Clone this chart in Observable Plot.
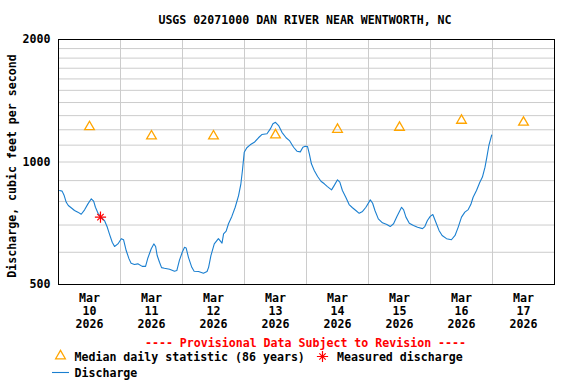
<!DOCTYPE html>
<html><head><meta charset="utf-8">
<script src="https://cdn.jsdelivr.net/npm/d3@7"></script>
<script src="https://cdn.jsdelivr.net/npm/@observablehq/plot@0.6"></script>
<style>
body{margin:0;background:#fff;}
#wrap{width:576px;height:384px;}
</style></head><body><div id="wrap"></div>
<script>
// ---- data ----
const title = "USGS 02071000 DAN RIVER NEAR WENTWORTH, NC";
const yLabel = "Discharge, cubic feet per second";
const provisional = "---- Provisional Data Subject to Revision ----";
const startTime = "2026-03-10T00:00Z";
const endTime = "2026-03-18T00:00Z";
// discharge: hours after 2026-03-10 00:00, cfs
const flowHours = [0.4,1.4,2.2,3.0,3.8,4.9,6.2,7.5,8.8,10.1,
11.4,12.7,13.6,14.3,15.3,16.5,17.8,18.9,19.7,20.8,
21.7,23.0,24.3,25.2,26.2,27.3,28.1,29.4,30.7,32.4,
33.7,34.6,35.9,36.9,37.6,38.2,39.1,39.9,41.0,43.0,
44.9,45.8,46.8,47.9,48.8,49.4,50.3,51.6,52.5,54.2,
56.1,57.5,58.1,59.0,60.3,61.9,63.3,63.9,64.9,65.8,
67.1,68.4,69.7,70.6,71.2,71.9,72.9,74.2,75.8,77.4,
78.7,80.7,82.0,83.0,84.0,85.2,86.5,88.1,89.4,91.0,
92.3,93.6,94.6,95.5,96.4,97.1,97.9,99.0,100.3,101.6,
102.9,104.1,105.7,106.7,108.0,108.9,109.9,111.3,112.5,113.8,
115.1,116.4,117.7,119.0,120.7,121.6,122.5,123.8,125.4,127.1,
128.4,129.7,131.0,132.8,133.6,134.5,135.8,137.4,139.0,140.9,
141.8,142.8,143.9,144.9,146.3,147.3,148.5,150.2,152.1,153.5,
154.7,156.0,157.3,158.6,159.6,160.5,161.8,163.1,164.1,165.1,
165.8,166.6,167.7];
const flowValues = [851,848,827,796,782,772,760,753,744,763,
789,812,801,774,748,732,718,691,666,635,
620,629,648,644,606,578,564,560,562,554,
554,581,612,629,620,589,567,550,548,545,
539,541,573,600,617,615,583,551,539,538,
533,538,551,589,629,648,632,666,676,705,
735,774,827,884,953,1057,1084,1102,1118,1147,
1168,1173,1206,1241,1252,1229,1183,1147,1129,1087,
1063,1059,1087,1093,1091,1047,990,953,921,897,
884,870,854,875,904,892,851,817,786,772,
760,748,756,774,807,792,760,725,709,702,
694,705,735,774,763,732,707,698,691,686,
694,718,735,743,705,679,660,648,644,660,
691,732,753,764,786,819,851,892,918,971,
1027,1098,1165];
const medianDates = ["2026-03-10T12:00Z","2026-03-11T12:00Z","2026-03-12T12:00Z","2026-03-13T12:00Z","2026-03-14T12:00Z","2026-03-15T12:00Z","2026-03-16T12:00Z","2026-03-17T12:00Z"];
const medianValues = [1220,1158,1158,1165,1202,1216,1265,1251];
const measuredDates = ["2026-03-10T16:15Z"];
const measuredValues = [732];
const yTicks = [500,1000,2000];
const yGrid = [600,700,800,900,1000,1100,1200,1300,1400,1500,1600,1700,1800,1900];
const dayLines = ["2026-03-11T00:00Z","2026-03-12T00:00Z","2026-03-13T00:00Z","2026-03-14T00:00Z","2026-03-15T00:00Z","2026-03-16T00:00Z","2026-03-17T00:00Z"];
const tickLabelDates = medianDates;
const legendMedian = "Median daily statistic (86 years)";
const legendMeasured = "Measured discharge";
const legendFlow = "Discharge";

// ---- build ----
const t0 = new Date(startTime);
const flow = flowHours.map((h,i)=>({date:new Date(+t0 + h*3600e3), value:flowValues[i]}));
const medians = medianDates.map((d,i)=>({date:new Date(d), value:medianValues[i]}));
const measured = measuredDates.map((d,i)=>({date:new Date(d), value:measuredValues[i]}));
const fmt = d => d3.utcFormat("%b")(d) + "\n" + d3.utcFormat("%d")(d) + "\n" + d3.utcFormat("%Y")(d);

const FONT = "DejaVu Sans Mono";
const FS = 11.6;
const BLUE = "#1a7fd0";
const ORANGE = "#ffa500";

const chart = Plot.plot({
  width:576, height:384,
  marginTop:39, marginBottom:100, marginLeft:58, marginRight:22,
  style:{fontFamily:FONT, fontSize:FS+"px", fontWeight:"bold", background:"white", color:"black", overflow:"visible"},
  x:{type:"utc", domain:[new Date(startTime), new Date(endTime)], axis:null},
  y:{type:"log", domain:[500,2000], axis:null},
  marks:[
    Plot.ruleY(yGrid, {stroke:"#cccccc", strokeWidth:1}),
    Plot.ruleX(dayLines.map(d=>new Date(d)), {stroke:"#cccccc", strokeWidth:1}),
    Plot.axisY({ticks:yTicks, tickSize:0, tickPadding:8, tickFormat:d3.format("d"), label:null, fontSize:FS, fontWeight:"bold"}),
    Plot.text(tickLabelDates.map(d=>new Date(d)), {x:d=>d, text:fmt, frameAnchor:"bottom", lineAnchor:"top", dy:8, lineHeight:1.13, fontSize:FS, fontWeight:"bold"}),
    Plot.line(flow, {x:"date", y:"value", stroke:BLUE, strokeWidth:1.1}),
    Plot.dot(medians, {x:"date", y:"value", symbol:"triangle", r:3.6, stroke:ORANGE, strokeWidth:1.3, fill:"none"}),
    Plot.dot(measured, {x:"date", y:"value", symbol:"plus", r:3.7, stroke:"red", strokeWidth:1.2}),
    Plot.dot(measured, {x:"date", y:"value", symbol:"times", r:3.0, stroke:"red", strokeWidth:1.2}),
    Plot.frame({stroke:"black", strokeWidth:1})
  ]
});
document.getElementById("wrap").appendChild(chart);

// ---- titles & legend ----
const svg = d3.select(chart);
const T = (x,y,txt,anchor="start",fill="black") => svg.append("text")
  .attr("x",x).attr("y",y).attr("text-anchor",anchor).attr("dominant-baseline","central")
  .attr("font-family",FONT).attr("font-size",FS).attr("font-weight","bold").attr("fill",fill).text(txt);
T(305,20,title,"middle");
svg.append("text").attr("transform","translate(12,166) rotate(-90)")
  .attr("text-anchor","middle").attr("dominant-baseline","central")
  .attr("font-family",FONT).attr("font-size",FS).attr("font-weight","bold").text(yLabel);
T(305.5,343,provisional,"middle","red");
svg.append("path").attr("transform","translate(60.5,356)")
  .attr("d",d3.symbol(d3.symbolTriangle, Math.PI*3.6*3.6)())
  .attr("fill","none").attr("stroke",ORANGE).attr("stroke-width",1.3);
T(74.5,357,legendMedian);
svg.append("path").attr("transform","translate(322.5,356.5)")
  .attr("d",d3.symbol(d3.symbolPlus, Math.PI*3.7*3.7)()).attr("fill","none").attr("stroke","red").attr("stroke-width",1.2);
svg.append("path").attr("transform","translate(322.5,356.5)")
  .attr("d",d3.symbol(d3.symbolTimes, Math.PI*3.0*3.0)()).attr("fill","none").attr("stroke","red").attr("stroke-width",1.2);
T(337,357,legendMeasured);
svg.append("line").attr("x1",52).attr("x2",69).attr("y1",372.5).attr("y2",372.5).attr("stroke",BLUE).attr("stroke-width",1.1);
T(74.5,373,legendFlow);
</script></body></html>
